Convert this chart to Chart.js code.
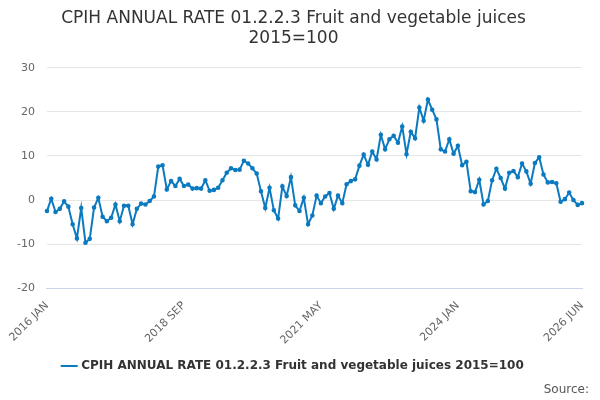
<!DOCTYPE html>
<html>
<head>
<meta charset="utf-8">
<script src="https://cdn.jsdelivr.net/npm/chart.js@4"></script>
<style>
  body { margin: 0; background: #fff; font-family: "DejaVu Sans", sans-serif; }
  #wrap { position: relative; width: 600px; height: 400px; }
  #source { position: absolute; right: 11px; bottom: 4px; font-size: 12px; color: #555; }
</style>
</head>
<body>
<div id="wrap">
  <canvas id="chart" width="600" height="400"></canvas>
  <div id="source">Source:</div>
</div>
<script>
const months = ["JAN", "FEB", "MAR", "APR", "MAY", "JUN", "JUL", "AUG", "SEP", "OCT", "NOV", "DEC"];
const startYear = 2016;
const shownTicks = [0, 32, 64, 96, 125];

const values = [
  -2.5, 0.3, -2.7, -2, -0.3, -1.5, -5.5, -8.7, -1.8, -9.7, -8.8, -1.7,
  0.5, -3.8, -4.8, -4, -1, -4.8, -1.3, -1.3, -5.5, -2, -0.8, -1,
  -0.2, 0.8, 7.6, 7.9, 2.4, 4.3, 3.2, 4.8, 3.2, 3.5, 2.6, 2.7,
  2.6, 4.5, 2.1, 2.3, 2.8, 4.5, 6.2, 7.2, 6.8, 6.9, 8.9, 8.3,
  7.2, 6.0, 2.0, -1.8, 2.8, -2.3, -4.2, 3.1, 0.9, 5.2, -1.2, -2.5,
  0.5, -5.5, -3.5, 1.0, -0.7, 0.8, 1.6, -2.0, 1.0, -0.7, 3.6, 4.3,
  4.7, 7.8, 10.3, 8.0, 11.0, 9.2, 14.8, 11.5, 13.8, 14.6, 13.0, 16.7,
  10.4, 15.5, 14.0, 21.0, 18.0, 22.8, 20.5, 18.3, 11.5, 11.0, 13.8, 10.5,
  12.3, 7.9, 8.7, 2.0, 1.8, 4.6, -1.0, -0.2, 4.5, 7.1, 5.0, 2.6,
  6.2, 6.6, 5.2, 8.3, 6.5, 3.7, 8.4, 9.7, 5.8, 4.0, 4.1, 3.8,
  -0.4, 0.2, 1.7, 0.0, -1.1, -0.7
];

const labels = values.map((v, i) =>
  (startYear + Math.floor(i / 12)) + " " + months[i % 12]);

Chart.defaults.font.family = "'DejaVu Sans', sans-serif";

new Chart(document.getElementById("chart"), {
  type: "line",
  data: {
    labels: labels,
    datasets: [{
      label: "CPIH ANNUAL RATE 01.2.2.3 Fruit and vegetable juices 2015=100",
      data: values,
      borderColor: "#0b7ac0",
      backgroundColor: "#0b7ac0",
      borderWidth: 2,
      pointRadius: 1.3,
      pointHoverRadius: 3,
      tension: 0
    }]
  },
  options: {
    responsive: false,
    animation: false,
    layout: { padding: { left: 5, right: 18, bottom: 18 } },
    plugins: {
      title: {
        display: true,
        text: ["CPIH ANNUAL RATE 01.2.2.3 Fruit and vegetable juices", "2015=100"],
        color: "#333",
        font: { size: 17, weight: "normal" },
        padding: { top: 8, bottom: 19 }
      },
      legend: {
        position: "bottom",
        labels: {
          color: "#333",
          font: { size: 12, weight: "bold" },
          usePointStyle: true,
          pointStyle: "line",
          boxWidth: 16
        }
      }
    },
    scales: {
      x: {
        grid: { display: false, drawTicks: true },
        border: { color: "#ccd6eb" },
        ticks: {
          autoSkip: false,
          maxRotation: 45,
          minRotation: 45,
          color: "#666",
          font: { size: 11 },
          callback: function (value, index) {
            return shownTicks.includes(index) ? labels[index] : null;
          }
        }
      },
      y: {
        min: -20,
        max: 30,
        ticks: { stepSize: 10, color: "#666", font: { size: 11 }, padding: 12 },
        grid: { color: "#e6e6e6", drawTicks: false },
        border: { display: false }
      }
    }
  }
});
</script>
</body>
</html>
